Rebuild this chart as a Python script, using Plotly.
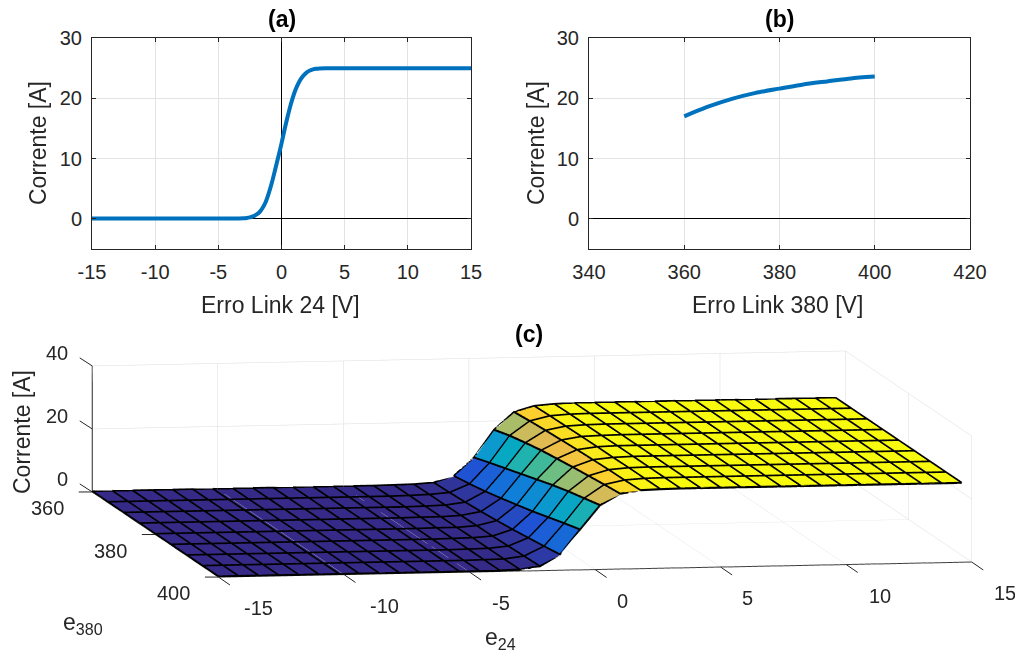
import plotly.graph_objects as go

W, H = 1015, 658
FONT = "Liberation Sans"
TXT = "#262626"
GRID = "#e3e3e3"

# (a)
a_x = [-15,-6,-4,-3,-2.75,-2.5,-2.25,-2,-1.75,-1.5,-1.25,-1,-.75,-.5,-.25,0,.25,.5,.75,1,1.25,1.5,1.75,2,2.25,2.5,2.75,3,3.5,4,6,15]
a_y = [0.05,0.05,0.05,0.1,.15,.25,.4,.7,1.1,1.8,2.8,4.3,6.1,8.2,10.3,12.5,14.9,17.1,19.1,20.8,22.1,23.1,23.8,24.3,24.6,24.8,24.9,24.95,25,25,25,25]
# (b)
b_x = [360,365,370,375,380,385,390,395,400]
b_y = [17.0,18.6,19.9,20.9,21.6,22.3,22.8,23.3,23.6]

# (c)
e24 = [-15,-14.2,-13.4,-12.6,-11.8,-11,-10.2,-9.4,-8.6,-7.8,-7,-6.2,-5.4,-4.6,-3.8,-3,-2.2,-1.4,-.6,.2,1,1.8,2.6,3.4,4.2,5,5.8,6.6,7.4,8.2,9,9.8,10.6,11.4,12.2,13,13.8,14.6]
e380 = [360,365,370,375,380,385,390,395,400]
row360 = [0,0,0,0,0,0,0,0,0,0,0,0,0,0, 0,.1,.2,.6,2.6,8.3,17,22.5,24.3,24.8,25, 25,25,25,25,25,25,25,25,25,25,25,25,25]
row365 = [0,0,0,0,0,0,0,0,0,0,0,0,0,0, 0,.1,.3,.8,3.4,10,18.5,23,24.5,24.9,25, 25,25,25,25,25,25,25,25,25,25,25,25,25]
row370 = [0,0,0,0,0,0,0,0,0,0,0,0,0,0, 0,.1,.3,1.1,4.4,11.6,19.6,23.4,24.6,24.9,25, 25,25,25,25,25,25,25,25,25,25,25,25,25]
row375 = [0,0,0,0,0,0,0,0,0,0,0,0,0,0, .1,.1,.4,1.5,5.6,13.2,20.6,23.7,24.7,24.9,25, 25,25,25,25,25,25,25,25,25,25,25,25,25]
row380 = [0,0,0,0,0,0,0,0,0,0,0,0,0,0, .1,.1,.5,2,6.9,14.8,21.3,24,24.8,25,25, 25,25,25,25,25,25,25,25,25,25,25,25,25]
row385 = [0,0,0,0,0,0,0,0,0,0,0,0,0,0, .1,.2,.6,2.6,8.2,16.4,22,24.2,24.8,25,25, 25,25,25,25,25,25,25,25,25,25,25,25,25]
row390 = [0,0,0,0,0,0,0,0,0,0,0,0,0,0, .1,.2,.8,3.3,9.7,17.8,22.6,24.4,24.9,25,25, 25,25,25,25,25,25,25,25,25,25,25,25,25]
row395 = [0,0,0,0,0,0,0,0,0,0,0,0,0,0, .1,.2,1,4,11.2,19,23.2,24.5,24.9,25,25, 25,25,25,25,25,25,25,25,25,25,25,25,25]
row400 = [0,0,0,0,0,0,0,0,0,0,0,0,0,0, .1,.3,1.2,4.8,12.6,20.2,23.7,24.7,24.9,25,25, 25,25,25,25,25,25,25,25,25,25,25,25,25]
rows = [row360,row365,row370,row375,row380,row385,row390,row395,row400]

parula = [[0,"rgb(53,42,135)"],[.1,"rgb(32,83,212)"],[.2,"rgb(16,121,218)"],[.3,"rgb(12,147,210)"],[.4,"rgb(7,169,194)"],
          [.5,"rgb(46,183,164)"],[.6,"rgb(113,191,128)"],[.7,"rgb(183,189,100)"],[.8,"rgb(233,185,78)"],[.9,"rgb(252,206,46)"],[1,"rgb(249,251,14)"]]

nx, ny = len(e24), len(e380)
mx, my, mz = [], [], []
for r, y in zip(rows, e380):
    for x, z in zip(e24, r):
        mx.append(x); my.append(y); mz.append(z)
ti, tj, tk, cell = [], [], [], []
for j in range(ny-1):
    for i in range(nx-1):
        p = j*nx+i
        ti += [p, p]; tj += [p+1, p+1+nx]; tk += [p+1+nx, p+nx]
        cell += [rows[j][i]]*2
lx, ly, lz = [], [], []
for j in range(ny):
    lx += e24+[None]; ly += [e380[j]]*nx+[None]; lz += rows[j]+[None]
for i in range(nx):
    lx += [e24[i]]*ny+[None]; ly += e380+[None]; lz += [r[i] for r in rows]+[None]

fig = go.Figure()
LINE = "#0072bd"
fig.add_trace(go.Scatter(x=a_x, y=a_y, mode="lines", line=dict(color=LINE, width=4, shape="spline", smoothing=.6), xaxis="x", yaxis="y", showlegend=False))
fig.add_trace(go.Scatter(x=b_x, y=b_y, mode="lines", line=dict(color=LINE, width=4, shape="spline", smoothing=.6), xaxis="x2", yaxis="y2", showlegend=False))
fig.add_trace(go.Mesh3d(x=mx, y=my, z=mz, i=ti, j=tj, k=tk, intensity=cell, intensitymode="cell",
                        colorscale=parula, cmin=0, cmax=25, showscale=False, flatshading=True,
                        lighting=dict(ambient=1, diffuse=0, specular=0, fresnel=0, roughness=1),
                        hoverinfo="skip", scene="scene"))
# mesh edges lifted a hair above the faces so the depth test keeps them visible and dark
for lift in (0.1, 0.3):
    fig.add_trace(go.Scatter3d(x=lx, y=ly, z=[None if v is None else v+lift for v in lz], mode="lines",
                               line=dict(color="#000000", width=3), hoverinfo="skip", showlegend=False, scene="scene"))

def ax2d(dom, rng, ticks, zero=True):
    return dict(domain=dom, range=rng, tickvals=ticks, ticktext=[str(t) for t in ticks], automargin=False,
                showgrid=True, gridcolor=GRID, gridwidth=1, showline=True, linecolor=TXT, linewidth=1,
                mirror="ticks", ticks="inside", ticklen=4, tickcolor=TXT, tickfont=dict(size=20, color=TXT),
                ticklabelstandoff=5, zeroline=zero, zerolinecolor="#000000", zerolinewidth=1)

px = lambda v: v/W
py = lambda v: 1-v/H
ydom = [py(249), py(38)]
ytv = [0,10,20,30]

def ann(x, y, text, size=23, color=TXT, bold=False, angle=0):
    return dict(x=px(x), y=py(y), xref="paper", yref="paper", text=f"<b>{text}</b>" if bold else text, showarrow=False,
                font=dict(size=size, color=color, family=FONT), textangle=angle, xanchor="center", yanchor="middle")

def sa(x, y, z, text, dx, dy):
    return dict(x=x, y=y, z=z, text=text, showarrow=False, xshift=dx, yshift=-dy,
                font=dict(size=20, color=TXT, family=FONT), xanchor="center", yanchor="middle")

def tick(x, y, z, ax, ay):
    return dict(x=x, y=y, z=z, text=" ", showarrow=True, arrowhead=0, arrowwidth=1, arrowcolor=TXT, ax=ax, ay=ay, standoff=0)

x_ticks = [-15,-10,-5,0,5,10,15]
x_label_dx = [40,40,31,27,27,34,33]
y_ticks = [360,380,400]
z_ticks = [0,20,40]
z_label_dx = [-30,-35,-35]
scene_ann = [sa(v,400,0,str(v),d,31) for v,d in zip(x_ticks,x_label_dx)] \
          + [sa(-15,v,0,str(v),-45,16) for v in y_ticks] \
          + [sa(-15,360,v,str(v),d,-13) for v,d in zip(z_ticks,z_label_dx)] \
          + [tick(v,400,0,16,11) for v in x_ticks] \
          + [tick(-15,v,0,-18,0) for v in y_ticks] \
          + [tick(-15,360,v,-17,-11) for v in z_ticks]

def ax3d(rng, tv):
    return dict(range=rng, tickvals=tv, showticklabels=False, title=dict(text=""), showgrid=True, gridcolor="#dcdcdc", gridwidth=1,
                zeroline=False, showline=True, linecolor=TXT, linewidth=2, ticks="", showbackground=False, showspikes=False)

R = 3.0
K = 3.94
fig.update_layout(
    template="none",
    width=W, height=H, margin=dict(l=0,r=0,t=0,b=0), paper_bgcolor="white", plot_bgcolor="white",
    font=dict(family=FONT, color=TXT, size=20), showlegend=False,
    xaxis=ax2d([px(92),px(471)], [-15,15], x_ticks),
    yaxis=ax2d(ydom, [-5,30], ytv),
    xaxis2=dict(ax2d([px(589),px(970)], [340,420], [340,360,380,400,420], zero=False), anchor="y2"),
    yaxis2=dict(ax2d(ydom, [-5,30], ytv), anchor="x2"),
    scene=dict(domain=dict(x=[49/W,1], y=[0,py(270)]),
               xaxis=ax3d([-15,15], x_ticks), yaxis=ax3d([400,360], y_ticks), zaxis=ax3d([0,40], z_ticks),
               aspectmode="manual", aspectratio=dict(x=K,y=.974*K,z=.166*K),
               camera=dict(projection=dict(type="orthographic"), up=dict(x=0,y=0,z=1), center=dict(x=0,y=0,z=0),
                           eye=dict(x=-.1684*R,y=-.979*R,z=.116*R)),
               annotations=scene_ann),
    annotations=[ann(282,19,"(a)",bold=True,color="#000000"), ann(779,19,"(b)",bold=True,color="#000000"), ann(529,334,"(c)",bold=True,color="#000000"),
                 ann(280,305,"Erro Link 24 [V]"), ann(777,305,"Erro Link 380 [V]"),
                 ann(38,143,"Corrente [A]",angle=-90), ann(536,143,"Corrente [A]",angle=-90),
                 ann(22,432,"Corrente [A]",angle=-90), ann(83,623,"e<sub>380</sub>"), ann(500,638,"e<sub>24</sub>")],
)
fig.write_html("out.html", config=dict(displayModeBar=False), post_script="document.body.style.margin='0';")
